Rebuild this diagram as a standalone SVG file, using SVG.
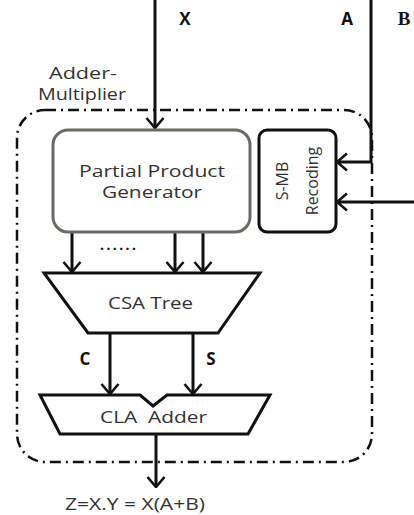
<svg xmlns="http://www.w3.org/2000/svg" width="414" height="515" viewBox="0 0 414 515">
  <defs>
    <marker id="arr" viewBox="0 0 12 20" refX="11" refY="10" markerWidth="12" markerHeight="20" markerUnits="userSpaceOnUse" orient="auto">
      <path d="M1,1.5 L11,10 L1,18.5" fill="none" stroke="#111" stroke-width="2.6"/>
    </marker>
  </defs>
  <style>
    .wire { fill: none; stroke: #111; stroke-width: 3; }
    .lbl { font-family: "Open Sans", "DejaVu Sans", sans-serif; font-size: 16px; fill: #333; }
    .bold { font-family: "Open Sans", "DejaVu Sans", sans-serif; font-size: 17px; font-weight: bold; fill: #111; }
    .blk { fill: #fff; stroke: #111; stroke-width: 3; }
  </style>
  <rect width="414" height="515" fill="#fff"/>

  <!-- enclosing Adder-Multiplier boundary -->
  <g id="boundary">
    <rect x="17" y="110" width="355" height="352" rx="28" fill="none" stroke="#111" stroke-width="2.5" stroke-dasharray="11 5 2 5"/>
    <text class="lbl" x="49" y="79" textLength="68" lengthAdjust="spacingAndGlyphs">Adder-</text>
    <text class="lbl" x="38" y="100" textLength="88" lengthAdjust="spacingAndGlyphs">Multiplier</text>
  </g>

  <!-- connectors -->
  <g id="connectors">
    <line class="wire" x1="155" y1="0" x2="155" y2="128" marker-end="url(#arr)"/>
    <polyline class="wire" points="371,0 371,162 337,162" marker-end="url(#arr)"/>
    <line class="wire" x1="414" y1="202" x2="337" y2="202" marker-end="url(#arr)"/>
    <line class="wire" x1="72" y1="232" x2="72" y2="272" marker-end="url(#arr)"/>
    <line class="wire" x1="175" y1="232" x2="175" y2="272" marker-end="url(#arr)"/>
    <line class="wire" x1="203" y1="232" x2="203" y2="272" marker-end="url(#arr)"/>
    <line class="wire" x1="110" y1="333" x2="110" y2="394" marker-end="url(#arr)"/>
    <line class="wire" x1="193" y1="333" x2="193" y2="394" marker-end="url(#arr)"/>
    <line class="wire" x1="156" y1="434" x2="156" y2="487" marker-end="url(#arr)"/>
    <text class="bold" x="185" y="25" text-anchor="middle">X</text>
    <text class="bold" x="347" y="25" text-anchor="middle">A</text>
    <text x="404" y="25" font-size="19" font-weight="bold" text-anchor="middle" font-family="'Liberation Serif', 'DejaVu Serif', serif" fill="#111">B</text>
    <text class="bold" x="85" y="365" text-anchor="middle">C</text>
    <text class="bold" x="211" y="365" text-anchor="middle">S</text>
    <text x="100" y="250" font-size="14" font-weight="bold" font-family="'Open Sans', sans-serif" fill="#111" textLength="36" lengthAdjust="spacing">......</text>
  </g>

  <!-- Partial Product Generator -->
  <g id="ppg">
    <rect x="53" y="130" width="197" height="102" rx="15" fill="#fff" stroke="#6b6b66" stroke-width="3"/>
    <text class="lbl" x="79" y="177" textLength="146" lengthAdjust="spacingAndGlyphs">Partial Product</text>
    <text class="lbl" x="102" y="198" textLength="100" lengthAdjust="spacingAndGlyphs">Generator</text>
  </g>

  <!-- S-MB Recoding -->
  <g id="smb">
    <rect class="blk" x="259" y="130" width="77" height="102" rx="8"/>
    <text class="lbl" transform="translate(288 181) rotate(-90)" font-size="16" text-anchor="middle">S-MB</text>
    <text class="lbl" transform="translate(318 181) rotate(-90)" font-size="16" text-anchor="middle">Recoding</text>
  </g>

  <!-- CSA Tree -->
  <g id="csa">
    <polygon class="blk" points="44,273 260,273 218,333 88,333"/>
    <text class="lbl" x="108" y="309" textLength="85" lengthAdjust="spacingAndGlyphs">CSA Tree</text>
  </g>

  <!-- CLA Adder -->
  <g id="cla">
    <polygon class="blk" points="40,395 140,395 153,406 167,395 270,395 248,434 60,434"/>
    <text class="lbl" x="100" y="423" textLength="107" lengthAdjust="spacingAndGlyphs" xml:space="preserve">CLA  Adder</text>
  </g>

  <!-- output -->
  <g id="output">
    <text class="lbl" x="65" y="510" textLength="140" lengthAdjust="spacingAndGlyphs">Z=X.Y = X(A+B)</text>
  </g>
</svg>
